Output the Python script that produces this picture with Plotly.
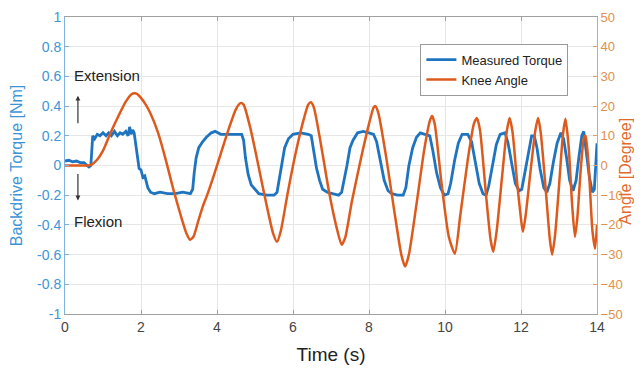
import plotly.graph_objects as go

# ---- data ----
torque_t = [0.00, 0.10, 0.20, 0.30, 0.40, 0.50, 0.58, 0.63, 0.68, 0.71, 0.73, 0.78, 0.85, 0.92, 1.00,
            1.08, 1.15, 1.22, 1.30, 1.38, 1.45, 1.52, 1.60, 1.66, 1.70, 1.74, 1.78, 1.82, 1.86, 1.90,
            1.95, 2.00, 2.05, 2.10, 2.18, 2.25, 2.35, 2.50, 2.70, 2.90, 3.10, 3.30, 3.36, 3.40, 3.45,
            3.52, 3.62, 3.72, 3.85, 3.95, 4.10, 4.30, 4.50, 4.65, 4.70, 4.75, 4.82, 4.90, 5.00, 5.10,
            5.30, 5.50, 5.58, 5.63, 5.70, 5.78, 5.88, 6.00, 6.20, 6.40, 6.48, 6.55, 6.62, 6.70, 6.78,
            6.90, 7.05, 7.20, 7.28, 7.35, 7.42, 7.50, 7.58, 7.70, 7.85, 8.00, 8.12, 8.20, 8.30, 8.40,
            8.50, 8.60, 8.75, 8.90, 8.97, 9.05, 9.15, 9.25, 9.35, 9.50, 9.60, 9.68, 9.78, 9.88, 9.98,
            10.08, 10.15, 10.25, 10.35, 10.45, 10.60, 10.70, 10.80, 10.90, 11.00, 11.08, 11.15, 11.25,
            11.35, 11.45, 11.58, 11.66, 11.75, 11.85, 11.95, 12.02, 12.10, 12.20, 12.28, 12.35, 12.42,
            12.50, 12.60, 12.68, 12.76, 12.85, 12.95, 13.05, 13.12, 13.20, 13.28, 13.37, 13.45, 13.52,
            13.60, 13.65, 13.72, 13.80, 13.88, 13.93, 14.00]
torque_nm = [0.03, 0.035, 0.025, 0.03, 0.02, 0.02, 0.00, -0.01, 0.00, 0.12, 0.20, 0.18, 0.21, 0.20, 0.22,
             0.20, 0.22, 0.20, 0.23, 0.20, 0.22, 0.21, 0.23, 0.20, 0.26, 0.21, 0.24, 0.22, 0.15, 0.05,
             -0.02, -0.03, -0.08, -0.07, -0.15, -0.18, -0.19, -0.18, -0.19, -0.19, -0.18, -0.19, -0.16, -0.05, 0.05,
             0.12, 0.16, 0.19, 0.22, 0.23, 0.21, 0.21, 0.21, 0.21, 0.17, 0.05, -0.06, -0.13, -0.16, -0.19,
             -0.20, -0.20, -0.18, -0.10, 0.02, 0.12, 0.18, 0.21, 0.22, 0.21, 0.20, 0.10, -0.02, -0.10, -0.16,
             -0.18, -0.19, -0.20, -0.18, -0.10, 0.00, 0.12, 0.17, 0.22, 0.23, 0.22, 0.21, 0.16, 0.02, -0.10,
             -0.17, -0.19, -0.20, -0.20, -0.15, 0.00, 0.12, 0.19, 0.22, 0.21, 0.20, 0.10, -0.05, -0.15, -0.20,
             -0.19, -0.12, 0.03, 0.15, 0.21, 0.21, 0.16, 0.02, -0.12, -0.19, -0.20, -0.14, 0.00,
             0.14, 0.21, 0.22, 0.15, 0.02, -0.12, -0.17, -0.16, -0.05, 0.10, 0.20, 0.20, 0.12,
             -0.02, -0.15, -0.18, -0.12, 0.02, 0.15, 0.22, 0.18, 0.05, -0.10, -0.17, -0.10, 0.05,
             0.20, 0.23, 0.10, -0.08, -0.18, -0.16, 0.15]

angle_t = [0.00, 0.30, 0.60, 0.70, 0.85, 1.00, 1.20, 1.40, 1.60, 1.75, 1.85, 1.95, 2.10, 2.25, 2.45,
           2.65, 2.85, 3.05, 3.20, 3.29, 3.38, 3.50, 3.62, 3.74, 3.90, 4.10, 4.30, 4.50, 4.62, 4.70,
           4.85, 5.00, 5.20, 5.35, 5.48, 5.58, 5.68, 5.85, 6.05, 6.25, 6.40, 6.47, 6.55, 6.75, 6.95,
           7.15, 7.28, 7.38, 7.55, 7.80, 8.00, 8.12, 8.17, 8.25, 8.45, 8.65, 8.85, 8.95, 9.05, 9.25,
           9.45, 9.60, 9.66, 9.73, 9.90, 10.10, 10.26, 10.40, 10.60, 10.76, 10.84, 10.92, 11.08, 11.20,
           11.27, 11.36, 11.50, 11.62, 11.70, 11.78, 11.90, 12.00, 12.05, 12.12, 12.25, 12.38, 12.45,
           12.52, 12.65, 12.76, 12.82, 12.90, 13.00, 13.10, 13.17, 13.25, 13.35, 13.42, 13.48, 13.58,
           13.66, 13.70, 13.78, 13.88, 13.95, 14.00]
angle_deg = [0, 0, 0, 0.3, 2, 5, 11, 16.5, 21.5, 24, 24.3, 23.5, 21, 17.5, 11,
             2, -8, -17, -23, -25, -24, -19, -14, -10, -4, 4, 12, 19, 21, 20.5,
             14, 5.5, -7, -16, -23, -25.7, -22, -10, 3, 14, 20.5, 21.3, 19.5, 6, -9,
             -21, -26.7, -24, -12, 3, 14, 19.5, 20, 17.5, 3, -14, -30, -34, -30, -13,
             5, 15, 16.7, 14, -5, -24, -29.7, -17, 2, 14, 16, 12, -10, -25,
             -29, -22, -4, 11, 16, 11, -6, -18, -22.3, -17, -2, 12, 16,
             11, -8, -25, -30, -23, -7, 10, 15.7, 7, -14, -24, -18, 0,
             9.5, 10, 0, -22, -28, -20]

x_ticks = [0, 2, 4, 6, 8, 10, 12, 14]
y_ticks = [-1, -0.8, -0.6, -0.4, -0.2, 0, 0.2, 0.4, 0.6, 0.8, 1]
y2_ticks = [-50, -40, -30, -20, -10, 0, 10, 20, 30, 40, 50]

BLUE = "#1f74c0"
ORANGE = "#dd5a1c"
FONT = "Arial, Liberation Sans, sans-serif"

fig = go.Figure()
fig.add_trace(go.Scatter(x=torque_t, y=torque_nm, mode="lines", name="Measured Torque",
                         line=dict(color=BLUE, width=2.8)))
fig.add_trace(go.Scatter(x=angle_t, y=angle_deg, mode="lines", name="Knee Angle", yaxis="y2",
                         line=dict(color=ORANGE, width=2.5, shape="spline", smoothing=0.6)))

fig.update_layout(
    width=634, height=357,
    margin=dict(l=57, r=45, t=9, b=51, autoexpand=False),
    paper_bgcolor="white", plot_bgcolor="white",
    font=dict(family=FONT, size=14, color="#333"),
    showlegend=True,
    legend=dict(x=0.668, y=0.91, xanchor="left", yanchor="top",
                bgcolor="white", bordercolor="#999", borderwidth=1,
                font=dict(size=13, color="#222"), tracegroupgap=0,
                itemwidth=30),
    xaxis=dict(range=[0, 14], tickvals=x_ticks, showgrid=True, gridcolor="#e6e6e6",
               showline=True, linecolor="#a0a0a0", linewidth=1, mirror="ticks",
               ticks="inside", ticklen=4, tickcolor="#a0a0a0", zeroline=False,
               automargin=False, ticklabeloverflow="allow",
               tickfont=dict(size=14, color="#444"),
               title=dict(text="Time (s)", font=dict(size=19, color="#222"), standoff=13)),
    yaxis=dict(range=[-1, 1], tickvals=y_ticks, ticktext=[f"{v:g}" for v in y_ticks],
               showgrid=True, gridcolor="#e6e6e6", automargin=False, ticklabeloverflow="allow",
               showline=True, linecolor="#7fb2de", linewidth=1,
               ticks="inside", ticklen=4, tickcolor="#7fb2de", zeroline=False,
               tickfont=dict(size=14, color="#3d95d6"),
               title=dict(text="Backdrive Torque [Nm]", font=dict(size=16, color="#3d95d6"), standoff=13)),
    yaxis2=dict(range=[-50, 50], tickvals=y2_ticks, overlaying="y", side="right",
                showgrid=False, showline=True, linecolor="#e8a070", linewidth=1, automargin=False,
                ticklabeloverflow="allow",
                ticks="inside", ticklen=4, tickcolor="#e8a070", zeroline=False,
                tickfont=dict(size=13, color="#e0904a")),
)

# right axis title placed as an annotation for exact control
fig.add_annotation(x=1.053, y=0.48, xref="paper", yref="paper", text="Angle [Degree]",
                   textangle=-90, showarrow=False, xanchor="center", yanchor="middle",
                   font=dict(size=16, color="#e2692a"))

fig.add_annotation(x=0.18, y=0.607, xref="x", yref="y", text="Extension", showarrow=False,
                   xanchor="left", yanchor="middle", font=dict(size=15, color="#222"))
fig.add_annotation(x=0.18, y=-0.38, xref="x", yref="y", text="Flexion", showarrow=False,
                   xanchor="left", yanchor="middle", font=dict(size=15, color="#222"))
fig.add_annotation(x=0.34, y=0.47, xref="x", yref="y", ax=0, ay=29, text="", showarrow=True,
                   arrowhead=2, arrowsize=0.8, arrowwidth=1.2, arrowcolor="#333")
fig.add_annotation(x=0.34, y=-0.235, xref="x", yref="y", ax=0, ay=-28, text="", showarrow=True,
                   arrowhead=2, arrowsize=0.8, arrowwidth=1.2, arrowcolor="#333")

fig.write_html("out.html")
